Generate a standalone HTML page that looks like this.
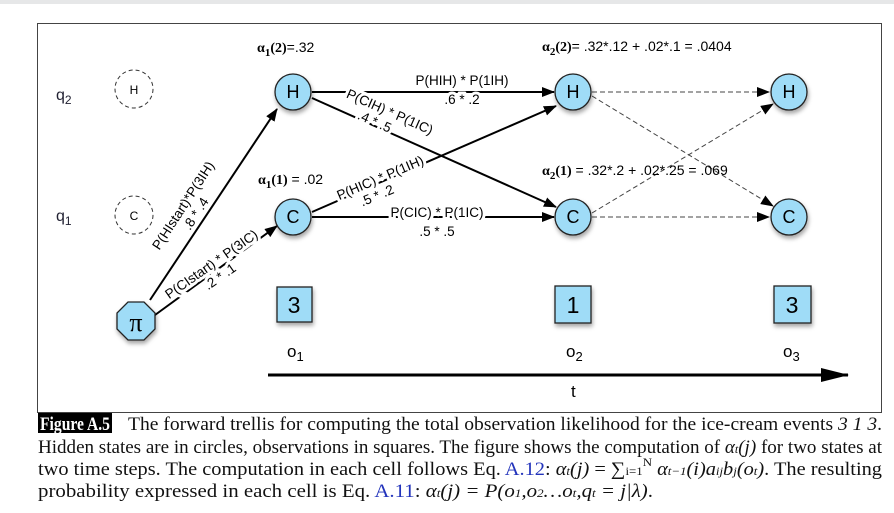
<!DOCTYPE html>
<html><head><meta charset="utf-8"><style>
body{margin:0;background:#fff}
svg{display:block}
.s{font-family:"Liberation Sans",sans-serif}
.h{paint-order:stroke;stroke:#fff;stroke-width:6px}
.cap{font-family:"Liberation Serif",serif;font-size:19px;fill:#111}
</style></head><body>
<svg width="894" height="513" viewBox="0 0 894 513" xmlns="http://www.w3.org/2000/svg">
<defs>
<marker id="a" markerWidth="13" markerHeight="10" refX="12" refY="5" orient="auto" markerUnits="userSpaceOnUse"><path d="M0,0 L13,5 L0,10z" fill="#000"/></marker>
<marker id="b" markerWidth="28" markerHeight="14" refX="27" refY="7" orient="auto" markerUnits="userSpaceOnUse"><path d="M0,0 L28,7 L0,14z" fill="#000"/></marker>
<filter id="sh" x="-30%" y="-30%" width="160%" height="170%"><feDropShadow dx="1" dy="3" stdDeviation="2" flood-opacity="0.35"/></filter>
</defs>
<rect x="0" y="0" width="894" height="4" fill="#e6e7e8"/>
<rect x="37.5" y="23.5" width="844" height="389" fill="none" stroke="#444" stroke-width="1"/>

<text class="s" x="56" y="100" font-size="16" fill="#223">q<tspan font-size="12" dy="4">2</tspan></text>
<text class="s" x="56" y="221" font-size="16" fill="#223">q<tspan font-size="12" dy="4">1</tspan></text>
<circle cx="134" cy="89" r="19" fill="none" stroke="#333" stroke-dasharray="4,3"/>
<text class="s" x="134" y="94" font-size="12" text-anchor="middle">H</text>
<circle cx="134" cy="215" r="19" fill="none" stroke="#333" stroke-dasharray="4,3"/>
<text class="s" x="134" y="220" font-size="12" text-anchor="middle">C</text>

<g stroke="#000" stroke-width="2" fill="none">
<line x1="150" y1="300" x2="277" y2="109" marker-end="url(#a)"/>
<line x1="155" y1="315" x2="277" y2="226" marker-end="url(#a)"/>
<line x1="312" y1="92" x2="554" y2="92" marker-end="url(#a)"/>
<line x1="312" y1="98" x2="556" y2="207" marker-end="url(#a)"/>
<line x1="312" y1="212" x2="556" y2="106" marker-end="url(#a)"/>
<line x1="312" y1="217" x2="554" y2="217" marker-end="url(#a)"/>
</g>
<g stroke="#444" stroke-width="1" stroke-dasharray="5,3" fill="none">
<line x1="592" y1="92" x2="769" y2="92" marker-end="url(#a)"/>
<line x1="592" y1="217" x2="769" y2="217" marker-end="url(#a)"/>
<line x1="592" y1="96" x2="773" y2="206" marker-end="url(#a)"/>
<line x1="592" y1="213" x2="773" y2="104" marker-end="url(#a)"/>
</g>

<g class="s" font-size="13.5" text-anchor="middle">
<text class="h" x="462" y="85">P(HIH) * P(1IH)</text>
<text class="h" x="462" y="104">.6 * .2</text>
<text class="h" x="437" y="217">P(CIC) * P(1IC)</text>
<text class="h" x="437" y="236">.5 * .5</text>
<g transform="translate(187,208) rotate(-57)"><text class="h" x="0" y="0">P(HIstart)*P(3IH)</text><text class="h" x="0" y="15">.8 * .4</text></g>
<g transform="translate(214,268) rotate(-35)"><text class="h" x="0" y="0">P(CIstart) * P(3IC)</text><text class="h" x="0" y="15">.2 * .1</text></g>
<g transform="translate(388,116) rotate(24)"><text class="h" x="0" y="0">P(CIH) * P(1IC)</text><text class="h" x="-10" y="15">.4 * .5</text></g>
<g transform="translate(382,182) rotate(-23)"><text class="h" x="0" y="0">P(HIC) * P(1IH)</text><text class="h" x="-10" y="15">.5 * .2</text></g>
</g>

<g fill="#9fdcf7" stroke="#222" stroke-width="1.3" filter="url(#sh)">
<circle cx="293" cy="92" r="18"/><circle cx="293" cy="217" r="18"/>
<circle cx="573" cy="92" r="18"/><circle cx="573" cy="217" r="18"/>
<circle cx="789" cy="92" r="18"/><circle cx="789" cy="217" r="18"/>
<polygon points="128,302 144,302 155,313 155,329 144,340 128,340 117,329 117,313"/>
<rect x="277" y="287" width="35" height="35"/>
<rect x="555" y="286" width="36" height="37"/>
<rect x="774" y="286" width="37" height="37"/>
</g>
<g class="s" font-size="18" text-anchor="middle">
<text x="293" y="98">H</text><text x="293" y="223">C</text>
<text x="573" y="98">H</text><text x="573" y="223">C</text>
<text x="789" y="98">H</text><text x="789" y="223">C</text>
<text x="294" y="313" font-size="23">3</text>
<text x="573" y="313" font-size="23">1</text>
<text x="792" y="313" font-size="23">3</text>
</g>
<text x="136" y="331" font-family="Liberation Serif,serif" font-size="26" text-anchor="middle">π</text>

<g class="s" font-size="17">
<text x="287" y="357">o<tspan font-size="13" dy="4">1</tspan></text>
<text x="566" y="357">o<tspan font-size="13" dy="4">2</tspan></text>
<text x="783" y="357">o<tspan font-size="13" dy="4">3</tspan></text>
<text x="571" y="397">t</text>
</g>
<line x1="268" y1="375" x2="848" y2="375" stroke="#000" stroke-width="3" marker-end="url(#b)"/>

<g font-size="14">
<text x="257" y="52"><tspan font-family="Liberation Serif,serif" font-weight="bold">α<tspan font-size="11" dy="4">1</tspan><tspan dy="-4">(2)</tspan></tspan><tspan class="s">=.32</tspan></text>
<text x="258" y="184"><tspan font-family="Liberation Serif,serif" font-weight="bold">α<tspan font-size="11" dy="4">1</tspan><tspan dy="-4">(1)</tspan></tspan><tspan class="s"> = .02</tspan></text>
<text x="542" y="51"><tspan font-family="Liberation Serif,serif" font-weight="bold">α<tspan font-size="11" dy="4">2</tspan><tspan dy="-4">(2)</tspan></tspan><tspan class="s">= .32*.12 + .02*.1 = .0404</tspan></text>
<text x="542" y="175"><tspan font-family="Liberation Serif,serif" font-weight="bold">α<tspan font-size="11" dy="4">2</tspan><tspan dy="-4">(1)</tspan></tspan><tspan class="s"> = .32*.2 + .02*.25 = .069</tspan></text>
</g>

<rect x="38" y="413" width="74" height="20" fill="#000"/>
<text x="40" y="430" font-family="Liberation Serif,serif" font-weight="bold" font-size="19" fill="#fff" textLength="70" lengthAdjust="spacingAndGlyphs">Figure A.5</text>
<text class="cap" x="128" y="430" textLength="754" lengthAdjust="spacingAndGlyphs">The forward trellis for computing the total observation likelihood for the ice-cream events <tspan font-style="italic">3 1 3</tspan>.</text>
<text class="cap" x="38" y="453" textLength="844" lengthAdjust="spacingAndGlyphs">Hidden states are in circles, observations in squares. The figure shows the computation of <tspan font-style="italic">α<tspan font-size="12">t</tspan>(j)</tspan> for two states at</text>
<text class="cap" x="38" y="475" textLength="844" lengthAdjust="spacingAndGlyphs">two time steps. The computation in each cell follows Eq. <tspan fill="#2233bb">A.12</tspan>: <tspan font-style="italic">α<tspan font-size="12">t</tspan>(j)</tspan> = ∑<tspan font-size="12">i=1</tspan><tspan font-size="12" dy="-9">N</tspan><tspan dy="9" font-style="italic"> α<tspan font-size="12">t−1</tspan>(i)a<tspan font-size="12">ij</tspan>b<tspan font-size="12">j</tspan>(o<tspan font-size="12">t</tspan>)</tspan>. The resulting</text>
<text class="cap" x="38" y="497" textLength="615" lengthAdjust="spacingAndGlyphs">probability expressed in each cell is Eq. <tspan fill="#2233bb">A.11</tspan>: <tspan font-style="italic">α<tspan font-size="12">t</tspan>(j) = P(o<tspan font-size="12">1</tspan>,o<tspan font-size="12">2</tspan>…o<tspan font-size="12">t</tspan>,q<tspan font-size="12">t</tspan> = j|λ)</tspan>.</text>
</svg>
</body></html>
